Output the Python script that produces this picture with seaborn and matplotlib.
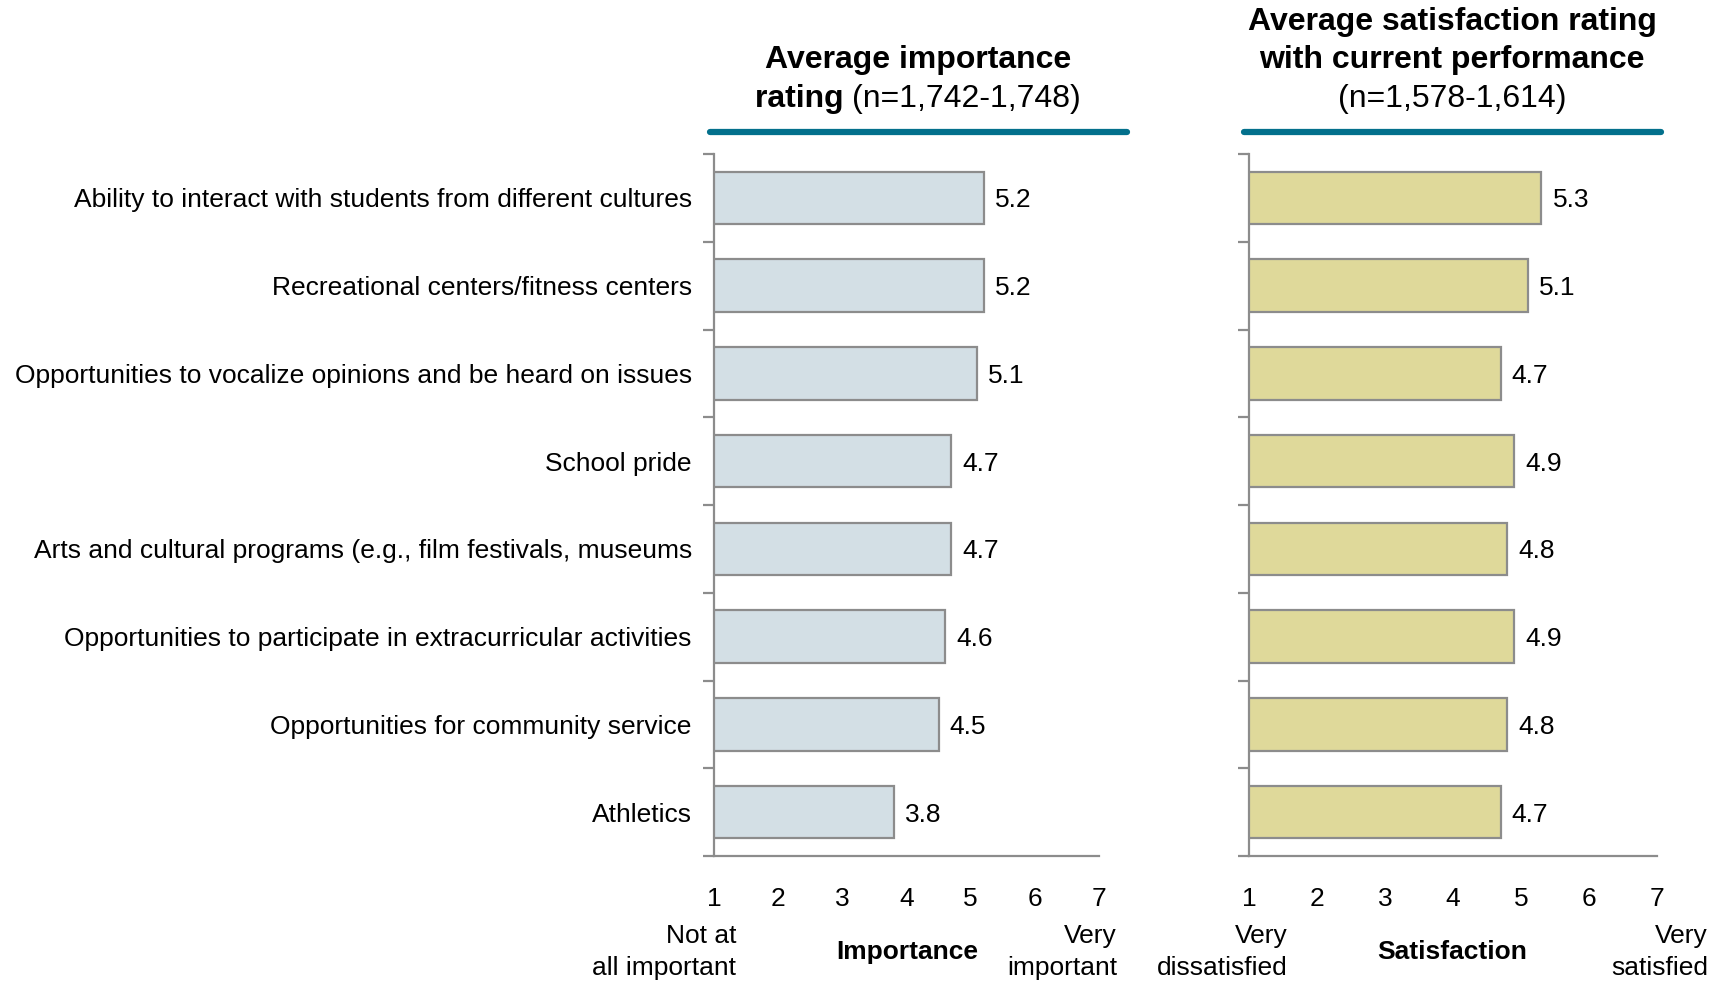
import matplotlib
matplotlib.use("Agg")
import matplotlib.pyplot as plt
import seaborn as sns
from matplotlib.lines import Line2D

# Data
categories = [
    "Ability to interact with students from different cultures",
    "Recreational centers/fitness centers",
    "Opportunities to vocalize opinions and be heard on issues",
    "School pride",
    "Arts and cultural programs (e.g., film festivals, museums",
    "Opportunities to participate in extracurricular activities",
    "Opportunities for community service",
    "Athletics",
]
importance = [5.2, 5.2, 5.1, 4.7, 4.7, 4.6, 4.5, 3.8]
satisfaction = [5.3, 5.1, 4.7, 4.9, 4.8, 4.9, 4.8, 4.7]
scale_ticks = [1, 2, 3, 4, 5, 6, 7]

sns.set_style("white")
plt.rcParams['font.family'] = ['Liberation Sans', 'DejaVu Sans']
plt.rcParams['text.color'] = 'black'
plt.rcParams['xtick.color'] = 'black'
plt.rcParams['ytick.color'] = 'black'

W, H = 1725, 984
fig = plt.figure(figsize=(W / 100, H / 100), dpi=100)

grey = "#8c8c8c"
teal = "#03708c"
fs = 19


def px(x0, y0, x1, y1):
    # pixel box -> figure fraction rect
    return [x0 / W, 1 - y1 / H, (x1 - x0) / W, (y1 - y0) / H]


ax1 = fig.add_axes(px(714, 154, 1099, 856))
ax2 = fig.add_axes(px(1249, 154, 1657, 856))

panels = [(ax1, importance, "#d3dfe5"), (ax2, satisfaction, "#dfd99a")]
for ax, vals, col in panels:
    sns.barplot(x=vals, y=categories, orient="h", color=col, width=0.6,
                edgecolor=grey, linewidth=1.6, saturation=1, ax=ax)
    ax.set_xlim(1, 7)
    ax.set_ylim(len(categories) - 0.5, -0.5)
    ax.set_xticks(scale_ticks)
    ax.set_xticklabels([str(t) for t in scale_ticks], fontsize=fs)
    ax.tick_params(axis="x", length=0, pad=22)
    ax.set_yticks(range(len(categories)))
    ax.set_yticks([i - 0.5 for i in range(len(categories) + 1)], minor=True)
    ax.tick_params(axis="y", which="major", length=0, pad=16, labelsize=fs)
    ax.tick_params(axis="y", which="minor", length=8, width=1.6, color=grey, left=True)
    ax.set_xlabel("")
    ax.set_ylabel("")
    for s in ["top", "right"]:
        ax.spines[s].set_visible(False)
    for s in ["left", "bottom"]:
        ax.spines[s].set_color(grey)
        ax.spines[s].set_linewidth(1.6)
    for i, v in enumerate(vals):
        ax.annotate(f"{v:.1f}", (v, i), xytext=(8, 0), textcoords="offset points",
                    va="center_baseline", ha="left", fontsize=fs)

ax2.set_yticklabels([])

hs = 23


# header texts
def ftext(x, y, s, **kw):
    return fig.text(x / W, 1 - y / H, s, ha="center", va="center", **kw)


ftext(918, 60, "Average importance", fontsize=hs, fontweight="bold")
t_a = fig.text(0, 1 - 99 / H, "rating ", ha="left", va="center", fontsize=hs, fontweight="bold")
t_b = fig.text(0, 1 - 99 / H, "(n=1,742-1,748)", ha="left", va="center", fontsize=hs)
fig.canvas.draw()
r = fig.canvas.get_renderer()
wa = t_a.get_window_extent(r).width
wb = t_b.get_window_extent(r).width
x0 = 918 - (wa + wb) / 2
t_a.set_x(x0 / W)
t_b.set_x((x0 + wa) / W)

ftext(1452, 22, "Average satisfaction rating", fontsize=hs, fontweight="bold")
ftext(1452, 60, "with current performance", fontsize=hs, fontweight="bold")
ftext(1452, 99, "(n=1,578-1,614)", fontsize=hs)

fig.add_artist(Line2D([710 / W, 1127 / W], [1 - 132 / H] * 2, color=teal, lw=4.5))
fig.add_artist(Line2D([1244 / W, 1661 / W], [1 - 132 / H] * 2, color=teal, lw=4.5))


# scale end labels
def btext(x, s, ha, **kw):
    fig.text(x / W, 1 - 952 / H, s, ha=ha, va="center", fontsize=fs,
             linespacing=1.45, multialignment=ha, **kw)


btext(736, "Not at\nall important", "right")
btext(907, "Importance", "center", fontweight="bold")
btext(1117, "Very\nimportant", "right")
btext(1288, "Very\ndissatisfied", "right")
btext(1452, "Satisfaction", "center", fontweight="bold")
btext(1708, "Very\nsatisfied", "right")

fig.savefig("out.png", dpi=100)
